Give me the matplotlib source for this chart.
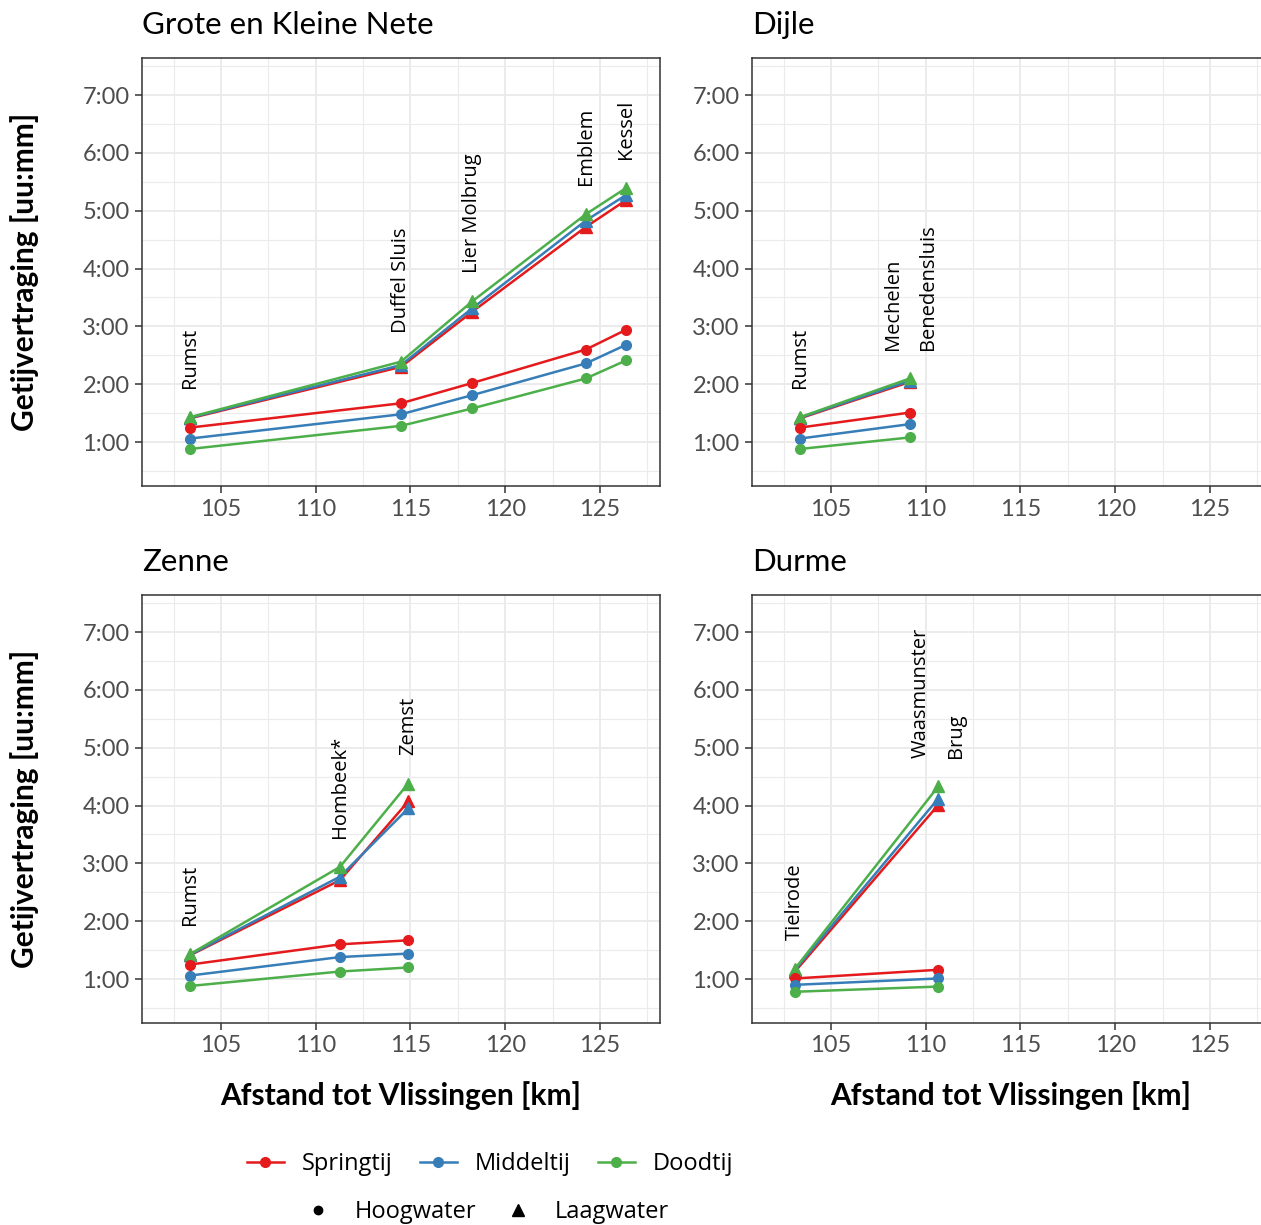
import matplotlib
matplotlib.use("Agg")
import matplotlib.pyplot as plt
from matplotlib.lines import Line2D
from matplotlib.ticker import MultipleLocator, FuncFormatter

plt.rcParams['font.family'] = ['Lato', 'DejaVu Sans']

# data: distance to Vlissingen [km], tidal delay in hours
panels = ["Grote en Kleine Nete", "Dijle", "Zenne", "Durme"]

nete_km = [103.36, 114.5, 118.25, 124.26, 126.37]
nete_names = ["Rumst", "Duffel Sluis", "Lier Molbrug", "Emblem", "Kessel"]
nete_hw_spring = [1.25, 1.67, 2.02, 2.60, 2.94]
nete_hw_middle = [1.06, 1.48, 1.81, 2.36, 2.68]
nete_hw_neap = [0.88, 1.28, 1.58, 2.10, 2.41]
nete_lw_spring = [1.41, 2.30, 3.25, 4.72, 5.18]
nete_lw_middle = [1.42, 2.33, 3.31, 4.83, 5.27]
nete_lw_neap = [1.43, 2.39, 3.43, 4.94, 5.39]

dijle_km = [103.36, 109.17]
dijle_names = ["Rumst", "Mechelen\nBenedensluis"]
dijle_hw_spring = [1.25, 1.51]
dijle_hw_middle = [1.06, 1.31]
dijle_hw_neap = [0.88, 1.08]
dijle_lw_spring = [1.41, 2.04]
dijle_lw_middle = [1.42, 2.06]
dijle_lw_neap = [1.43, 2.10]

zenne_km = [103.36, 111.28, 114.88]
zenne_names = ["Rumst", "Hombeek*", "Zemst"]
zenne_hw_spring = [1.25, 1.60, 1.67]
zenne_hw_middle = [1.06, 1.38, 1.44]
zenne_hw_neap = [0.88, 1.13, 1.20]
zenne_lw_spring = [1.41, 2.71, 4.07]
zenne_lw_middle = [1.42, 2.77, 3.95]
zenne_lw_neap = [1.43, 2.94, 4.38]

durme_km = [103.1, 110.66]
durme_names = ["Tielrode", "Waasmunster\nBrug"]
durme_hw_spring = [1.01, 1.16]
durme_hw_middle = [0.90, 1.01]
durme_hw_neap = [0.78, 0.87]
durme_lw_spring = [1.13, 4.01]
durme_lw_middle = [1.16, 4.12]
durme_lw_neap = [1.18, 4.33]

tides = ["Springtij", "Middeltij", "Doodtij"]
colors = ["#E41A1C", "#377EB8", "#4DAF4A"]

panel_data = [
    (nete_km, nete_names, [nete_hw_spring, nete_hw_middle, nete_hw_neap],
     [nete_lw_spring, nete_lw_middle, nete_lw_neap]),
    (dijle_km, dijle_names, [dijle_hw_spring, dijle_hw_middle, dijle_hw_neap],
     [dijle_lw_spring, dijle_lw_middle, dijle_lw_neap]),
    (zenne_km, zenne_names, [zenne_hw_spring, zenne_hw_middle, zenne_hw_neap],
     [zenne_lw_spring, zenne_lw_middle, zenne_lw_neap]),
    (durme_km, durme_names, [durme_hw_spring, durme_hw_middle, durme_hw_neap],
     [durme_lw_spring, durme_lw_middle, durme_lw_neap]),
]

W, H = 1261, 1225
fig = plt.figure(figsize=(W / 100, H / 100), dpi=100)

# panel boxes in pixels: left, top, right, bottom
boxes = [(142, 58, 660, 486), (752, 58, 1270, 486),
         (142, 595, 660, 1023), (752, 595, 1270, 1023)]


def hm(v, pos):
    h = int(v)
    m = int(round((v - h) * 60))
    return f"{h}:{m:02d}"


for i, (ax_box, name, (km, names, hw, lw)) in enumerate(zip(boxes, panels, panel_data)):
    l, t, r, b = ax_box
    ax = fig.add_axes([l / W, 1 - b / H, (r - l) / W, (b - t) / H])
    ax.set_xlim(100.83, 128.17)
    ax.set_ylim(0.24, 7.64)
    ax.xaxis.set_major_locator(MultipleLocator(5))
    ax.xaxis.set_minor_locator(MultipleLocator(2.5))
    ax.yaxis.set_major_locator(MultipleLocator(1))
    ax.yaxis.set_minor_locator(MultipleLocator(0.5))
    ax.yaxis.set_major_formatter(FuncFormatter(hm))
    ax.grid(True, which='major', color='#EBEBEB', lw=1.4)
    ax.grid(True, which='minor', color='#EBEBEB', lw=0.8)
    ax.set_axisbelow(True)
    for s in ax.spines.values():
        s.set_color('#333333')
        s.set_linewidth(1.1)
    ax.tick_params(which='major', length=5, width=1.1, color='#333333',
                   labelsize=17, labelcolor='#4D4D4D', pad=4)
    ax.tick_params(which='minor', length=0)
    ax.set_xticks([105, 110, 115, 120, 125])

    for c, y_hw, y_lw in zip(colors, hw, lw):
        ax.plot(km, y_lw, color=c, lw=1.8, marker='^', ms=8.5, zorder=3)
    for c, y_hw, y_lw in zip(colors, hw, lw):
        ax.plot(km, y_hw, color=c, lw=1.8, marker='o', ms=7, zorder=3)

    # station names, rotated, half an hour above the highest point
    for j, (x, lab) in enumerate(zip(km, names)):
        top = max(max(s[j] for s in lw), max(s[j] for s in hw))
        ax.text(x, top + 0.5, lab, rotation=90, ha='center', va='bottom',
                multialignment='left', fontsize=14.5, color='black',
                linespacing=2.0, family=['Open Sans', 'DejaVu Sans'])

    fig.text(l / W, 1 - (t - 33) / H, name, fontsize=22.5, ha='left', va='center')

    if i % 2 == 0:
        fig.text(25 / W, 1 - (t + b) / 2 / H, "Getijvertraging [uu:mm]",
                 fontsize=21.5, fontweight='bold', rotation=90,
                 ha='center', va='center')
    if i >= 2:
        fig.text((l + l + 518) / 2 / W, 1 - 1096 / H,
                 "Afstand tot Vlissingen [km]", fontsize=21.5,
                 fontweight='bold', ha='center', va='center')

# legends
legend_font = {'family': ['Open Sans', 'DejaVu Sans'], 'size': 17}
tide_handles = [Line2D([], [], color=c, lw=1.8, marker='o', ms=7) for c in colors]
fig.legend(tide_handles, tides, ncol=3, loc='center',
           bbox_to_anchor=(490 / W, 1 - 1164 / H), frameon=False,
           handlelength=1.57, columnspacing=1.15, handletextpad=0.76,
           prop=legend_font)
shape_handles = [Line2D([], [], color='black', lw=0, marker='o', ms=6),
                 Line2D([], [], color='black', lw=0, marker='^', ms=8)]
fig.legend(shape_handles, ["Hoogwater", "Laagwater"], ncol=2, loc='center',
           bbox_to_anchor=(484 / W, 1 - 1212 / H), frameon=False,
           handlelength=1.57, columnspacing=1.0, handletextpad=0.76,
           prop=legend_font)

fig.savefig("out.png", dpi=100)
